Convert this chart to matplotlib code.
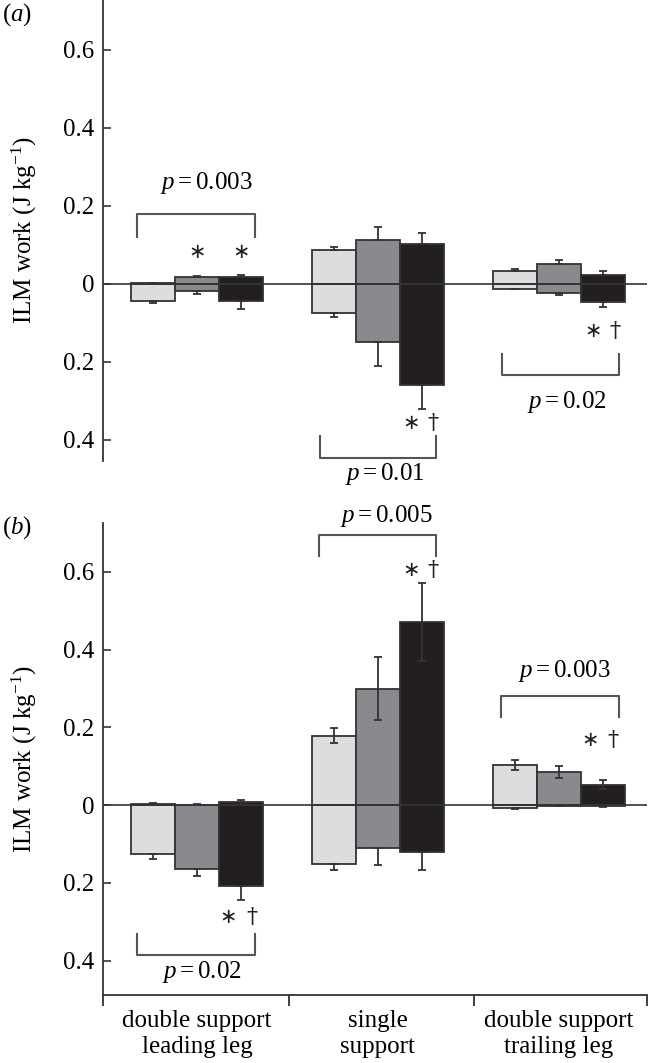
import matplotlib
matplotlib.use("Agg")
import matplotlib.pyplot as plt
import numpy as np
from matplotlib.ticker import FuncFormatter

FS = 18
plt.rcParams['font.family'] = ['Liberation Serif', 'DejaVu Serif']
plt.rcParams['mathtext.fontset'] = 'custom'
plt.rcParams['mathtext.rm'] = 'Liberation Serif'
plt.rcParams['mathtext.it'] = 'Liberation Serif:italic'
plt.rcParams['font.size'] = FS

categories = ["double support\nleading leg", "single\nsupport", "double support\ntrailing leg"]
conditions = ["light", "medium", "dark"]
bar_colors = ["#dcdddf", "#898a8d", "#231f20"]

# Panel (a): positive / negative ILM work, error (one-sided)
a_pos = {"light": [0.002, 0.087, 0.032], "medium": [0.017, 0.113, 0.050], "dark": [0.019, 0.103, 0.024]}
a_pos_err = {"light": [0.001, 0.009, 0.006], "medium": [0.004, 0.034, 0.012], "dark": [0.004, 0.027, 0.009]}
a_neg = {"light": [-0.043, -0.074, -0.012], "medium": [-0.017, -0.150, -0.022], "dark": [-0.045, -0.259, -0.047]}
a_neg_err = {"light": [0.007, 0.010, 0.001], "medium": [0.009, 0.060, 0.007], "dark": [0.019, 0.061, 0.013]}

# Panel (b)
b_pos = {"light": [0.004, 0.179, 0.104], "medium": [0.001, 0.299, 0.086], "dark": [0.007, 0.471, 0.053]}
b_pos_err = {"light": [0.002, 0.019, 0.013], "medium": [0.001, 0.081, 0.016], "dark": [0.007, 0.100, 0.012]}
b_neg = {"light": [-0.125, -0.150, -0.008], "medium": [-0.163, -0.111, -0.001], "dark": [-0.208, -0.120, -0.003]}
b_neg_err = {"light": [0.014, 0.016, 0.001], "medium": [0.019, 0.044, 0.001], "dark": [0.036, 0.046, 0.002]}

a_pvals = ["0.003", "0.01", "0.02"]
b_pvals = ["0.02", "0.005", "0.003"]

EDGE = "#333333"
BRK = "#555555"
W = 0.243
offsets = [-W, 0.0, W]
xc = np.arange(len(categories))

fig = plt.figure(figsize=(6.48, 10.63), dpi=100)
axA = fig.add_axes([0.159, 0.5663, 0.839, 0.4337])
axB = fig.add_axes([0.159, 0.064, 0.839, 0.4437])


def draw_panel(ax, pos, pos_err, neg, neg_err, symmetric_pos):
    for i, c in enumerate(conditions):
        x = xc + offsets[i]
        ax.bar(x, pos[c], W, color=bar_colors[i], edgecolor=EDGE, linewidth=1.3, zorder=2)
        ax.bar(x, neg[c], W, color=bar_colors[i], edgecolor=EDGE, linewidth=1.3, zorder=2)
        pe = np.array(pos_err[c])
        lower = pe if symmetric_pos else np.zeros_like(pe)
        ax.errorbar(x, pos[c], yerr=[lower, pe], fmt='none', ecolor=EDGE, elinewidth=1.3,
                    capsize=3.2, capthick=1.3, zorder=4)
        ne = np.array(neg_err[c])
        ax.errorbar(x, neg[c], yerr=[ne, np.zeros_like(ne)], fmt='none', ecolor=EDGE,
                    elinewidth=1.3, capsize=3.2, capthick=1.3, zorder=4)
    ax.axhline(0, color=EDGE, lw=1.2, zorder=3)
    ax.set_xlim(-0.519, 2.486)
    ax.set_yticks([-0.4, -0.2, 0, 0.2, 0.4, 0.6])
    ax.yaxis.set_major_formatter(FuncFormatter(lambda v, p: "0" if abs(v) < 1e-9 else f"{abs(v):.1f}"))
    ax.tick_params(axis='y', direction='in', length=6, width=1.2, color=EDGE, pad=6, labelsize=FS)
    for s in ['top', 'right']:
        ax.spines[s].set_visible(False)
    ax.spines['left'].set_color(EDGE)
    ax.spines['left'].set_linewidth(1.3)
    ax.set_ylabel("ILM work (J kg$^{-1}$)", fontsize=FS)
    ax.yaxis.set_label_coords(-0.145, 0.5)
    ax.yaxis.label.set_va('center')


def bracket(ax, x0, x1, yh, yend, text, ytext, xtext):
    ax.plot([x0, x0, x1, x1], [yend, yh, yh, yend], color=BRK, lw=1.5, clip_on=False, zorder=5)
    ax.text(xtext, ytext, "$p = " + text + "$", ha='center', va='center', fontsize=FS, clip_on=False)


def marks(ax, xs, xd, y):
    ax.text(xs, y, "\u2217", ha='center', va='center', fontsize=15, family='DejaVu Sans',
            color='#231f20', clip_on=False)
    if xd is not None:
        ax.text(xd, y, "\u2020", ha='center', va='center', fontsize=16, family='DejaVu Serif',
                color='#231f20', clip_on=False)


# Panel (a)
draw_panel(axA, a_pos, a_pos_err, a_neg, a_neg_err, symmetric_pos=False)
axA.set_ylim(-0.454, 0.728)
axA.spines['bottom'].set_visible(False)
axA.set_xticks([])
bracket(axA, -0.331, 0.320, 0.179, 0.121, a_pvals[0], 0.259, 0.05)
marks(axA, 0.0, None, 0.083)
marks(axA, 0.243, None, 0.083)
marks(axA, 1.182, 1.304, -0.357)
bracket(axA, 0.680, 1.324, -0.445, -0.389, a_pvals[1], -0.486, 1.039)
marks(axA, 2.19, 2.309, -0.12)
bracket(axA, 1.685, 2.333, -0.233, -0.18, a_pvals[2], -0.302, 2.043)

# Panel (b)
draw_panel(axB, b_pos, b_pos_err, b_neg, b_neg_err, symmetric_pos=True)
axB.set_ylim(-0.488, 0.725)
axB.spines['bottom'].set_color(EDGE)
axB.spines['bottom'].set_linewidth(1.3)
axB.set_xticks([-0.519, 0.51, 1.53, 2.486])
axB.set_xticklabels([])
axB.tick_params(axis='x', which='major', direction='out', length=8, width=1.3, color=EDGE)
axB.set_xticks(xc, minor=True)
axB.set_xticklabels(categories, minor=True, fontsize=FS)
axB.tick_params(axis='x', which='minor', length=0, pad=11)
marks(axB, 0.175, 0.302, -0.288)
bracket(axB, -0.331, 0.320, -0.385, -0.330, b_pvals[0], -0.428, 0.026)
marks(axB, 1.182, 1.304, 0.605)
bracket(axB, 0.676, 1.324, 0.695, 0.640, b_pvals[1], 0.743, 1.044)
marks(axB, 2.171, 2.297, 0.168)
bracket(axB, 1.683, 2.333, 0.281, 0.226, b_pvals[2], 0.346, 2.033)

fig.text(17.5 / 648, 1 - 15 / 1063, "($a$)", ha='center', va='center', fontsize=FS)
fig.text(17.5 / 648, 1 - 528 / 1063, "($b$)", ha='center', va='center', fontsize=FS)

fig.savefig("out.png", dpi=100)
